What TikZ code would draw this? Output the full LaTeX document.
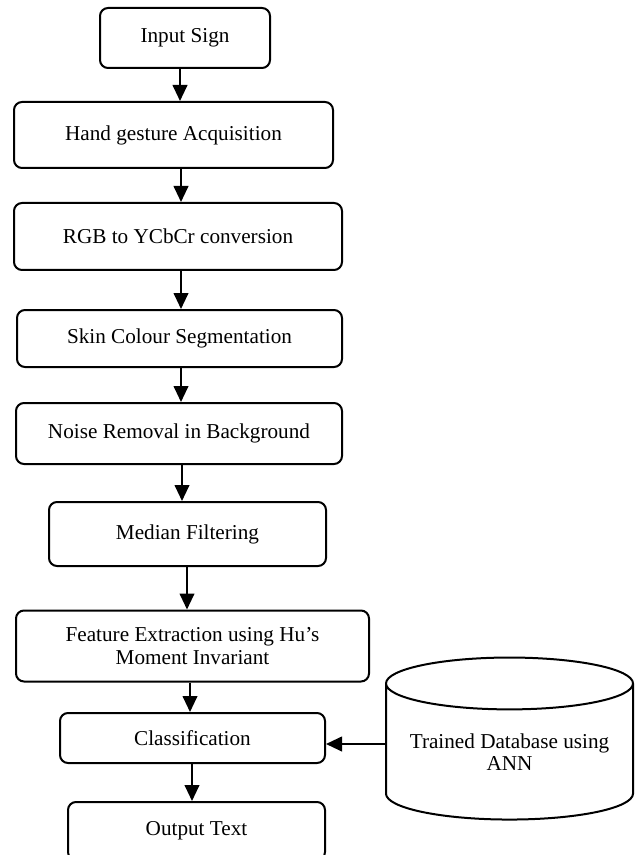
\documentclass[tikz,border=0pt]{standalone}
\usepackage{fontspec}
\setmainfont{Liberation Serif}
\usetikzlibrary{arrows.meta,shapes.geometric}

\tikzset{
  blk/.style={draw, line width=1.5pt, rounded corners=6pt, align=center, inner sep=2pt},
  arr/.style={line width=1.5pt, -{Triangle[length=12pt,width=11pt]}},
  dbase/.style={draw, line width=1.5pt, cylinder, shape border rotate=90, aspect=0.26, align=center, inner sep=0pt}
}

\begin{document}
\begin{tikzpicture}[x=0.75pt,y=-0.75pt,font=\fontsize{15.9}{17}\selectfont]
    \useasboundingbox (0,0) rectangle (641,855); % page
    \node[blk, minimum width=127.5pt, minimum height=45pt] (inp) at (185,38) {Input Sign};
    \node[blk, minimum width=239.25pt, minimum height=49.5pt] (hand) at (173.5,135) {Hand gesture Acquisition};
    \node[blk, minimum width=246pt, minimum height=50.25pt] (rgb) at (178,236.5) {RGB to YCbCr conversion};
    \node[blk, minimum width=243.75pt, minimum height=42.75pt] (skin) at (179.5,338.5) {Skin Colour Segmentation};
    \node[blk, minimum width=244.5pt, minimum height=45.75pt] (noise) at (179,433.5) {Noise Removal in Background};
    \node[blk, minimum width=207.75pt, minimum height=48pt] (med) at (187.5,534) {Median Filtering};
    \node[blk, minimum width=264.75pt, minimum height=53.25pt, font=\fontsize{15.9}{17.5}\selectfont] (feat) at (192.5,646) {Feature Extraction using Hu’s\\Moment Invariant};
    \node[blk, minimum width=198.75pt, minimum height=37.5pt] (cls) at (192.5,738) {Classification};
    \node[blk, minimum width=192.75pt, minimum height=43.5pt] (out) at (196.5,831) {Output Text};
    \node[dbase, minimum width=185.25pt, minimum height=121.5pt] (db) at (509.5,752) {Trained Database using\\ANN};
    \foreach \a/\b/\x in {inp/hand/180, hand/rgb/181, rgb/skin/181, skin/noise/181, noise/med/182, med/feat/187, feat/cls/190, cls/out/192}
        \draw[arr] (\x,0 |- \a.south) -- (\x,0 |- \b.north); % down arrows
    \draw[arr] (db.west |- 0,744) -- (cls.east |- 0,744); % database in
\end{tikzpicture}
\end{document}
